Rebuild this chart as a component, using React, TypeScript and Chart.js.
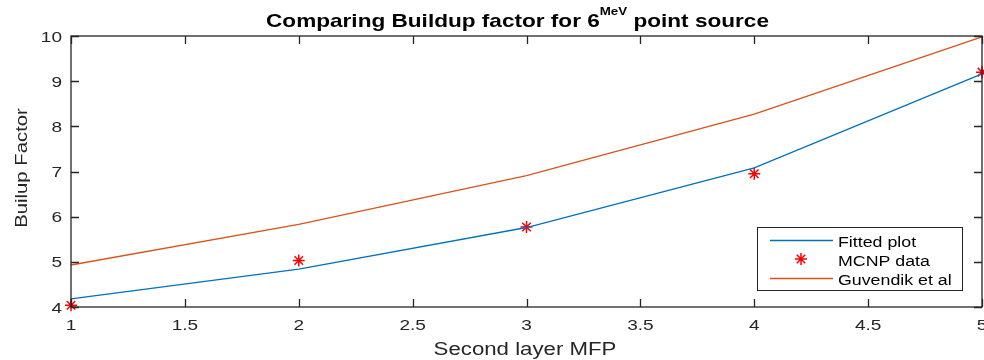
import React, { useEffect, useRef } from "react";
import { Chart, registerables } from "chart.js";

Chart.register(...registerables);

const mfp = [1, 2, 3, 4, 5];
const fitted = [4.18, 4.84, 5.76, 7.08, 9.16];
const mcnp = [4.04, 5.03, 5.77, 6.95, 9.2];
const guvendik = [4.93, 5.83, 6.91, 8.27, 9.98];
const xTicks = [1, 1.5, 2, 2.5, 3, 3.5, 4, 4.5, 5];
const yTicks = [4, 5, 6, 7, 8, 9, 10];
const legendLabels = ["Fitted plot", "MCNP data", "Guvendik et al"];

const AXC = "#262626";
const FONT = "'Liberation Sans', Arial, sans-serif";
const SX = 1.27;

function wText(ctx: any, text: string, font: string) {
  ctx.font = font;
  return ctx.measureText(text).width * SX;
}

function drawText(ctx: any, text: string, x: number, y: number, font: string, align: string) {
  ctx.save();
  ctx.font = font;
  const w = ctx.measureText(text).width * SX;
  let x0 = x;
  if (align === "center") x0 = x - w / 2;
  else if (align === "right") x0 = x - w;
  ctx.translate(x0, y);
  ctx.scale(SX, 1);
  ctx.textAlign = "left";
  ctx.fillText(text, 0, 0);
  ctx.restore();
}

const decorPlugin = {
  id: "decor",
  afterDraw(chart: any) {
    const ctx = chart.ctx;
    const { left, right, top, bottom } = chart.chartArea;
    const xs = chart.scales.x;
    const ys = chart.scales.y;
    ctx.save();
    // box
    ctx.strokeStyle = AXC;
    ctx.lineWidth = 1.3;
    ctx.strokeRect(left, top, right - left, bottom - top);
    // inward ticks
    const tl = 8;
    ctx.beginPath();
    xTicks.forEach((v) => {
      const px = Math.round(xs.getPixelForValue(v)) + 0.5;
      ctx.moveTo(px, bottom);
      ctx.lineTo(px, bottom - tl);
      ctx.moveTo(px, top);
      ctx.lineTo(px, top + tl);
    });
    yTicks.forEach((v) => {
      const py = Math.round(ys.getPixelForValue(v)) + 0.5;
      ctx.moveTo(left, py);
      ctx.lineTo(left + tl, py);
      ctx.moveTo(right, py);
      ctx.lineTo(right - tl, py);
    });
    ctx.stroke();

    // tick labels
    ctx.fillStyle = AXC;
    ctx.textBaseline = "alphabetic";
    const tf = "15px " + FONT;
    xTicks.forEach((v) => {
      drawText(ctx, String(v), xs.getPixelForValue(v), 330, tf, "center");
    });
    yTicks.forEach((v) => {
      drawText(ctx, String(v), 62, ys.getPixelForValue(v) + 5.5, tf, "right");
    });

    // title with superscript
    ctx.fillStyle = "#000";
    const f1 = "bold 17.8px " + FONT;
    const f2 = "bold 10.5px " + FONT;
    const p1 = "Comparing Buildup factor for 6";
    const p2 = "MeV";
    const p3 = " point source";
    const w1 = wText(ctx, p1, f1);
    const w2 = wText(ctx, p2, f2);
    const w3 = wText(ctx, p3, f1);
    let x = 517.5 - (w1 + w2 + w3) / 2;
    const by = 27;
    drawText(ctx, p1, x, by, f1, "left");
    x += w1;
    drawText(ctx, p2, x, by - 12, f2, "left");
    x += w2;
    drawText(ctx, p3, x, by, f1, "left");

    // axis titles
    ctx.fillStyle = AXC;
    drawText(ctx, "Second layer MFP", 525, 355, "17.5px " + FONT, "center");
    ctx.save();
    ctx.translate(27, 168);
    ctx.rotate(-Math.PI / 2);
    drawText(ctx, "Builup Factor", 0, 0, "16px " + FONT, "center");
    ctx.restore();

    // legend
    const lx = 757, ly = 227, lw = 205, lh = 63;
    ctx.fillStyle = "#fff";
    ctx.fillRect(lx, ly, lw, lh);
    ctx.strokeStyle = "#262626";
    ctx.lineWidth = 1;
    ctx.strokeRect(lx + 0.5, ly + 0.5, lw, lh);
    const rows = [240, 259, 278];
    const colors = ["#0072BD", "#ff0000", "#D95319"];
    rows.forEach((ry, i) => {
      ctx.strokeStyle = colors[i];
      ctx.lineWidth = 1.5;
      ctx.beginPath();
      if (i === 1) {
        const cx = 801, r = 6;
        for (let k = 0; k < 4; k++) {
          const a = (k * Math.PI) / 4;
          ctx.moveTo(cx - r * Math.cos(a), ry - r * Math.sin(a));
          ctx.lineTo(cx + r * Math.cos(a), ry + r * Math.sin(a));
        }
      } else {
        ctx.moveTo(770, ry + 0.5);
        ctx.lineTo(833, ry + 0.5);
      }
      ctx.stroke();
      ctx.fillStyle = "#000";
      drawText(ctx, legendLabels[i], 838, ry + 7, "14px " + FONT, "left");
    });
    ctx.restore();
  },
};

export default function App() {
  const ref = useRef<HTMLCanvasElement | null>(null);
  useEffect(() => {
    if (!ref.current) return;
    const chart = new Chart(ref.current, {
      type: "line",
      data: {
        datasets: [
          {
            label: legendLabels[0],
            data: mfp.map((x, i) => ({ x, y: fitted[i] })),
            borderColor: "#0072BD",
            borderWidth: 1.3,
            pointRadius: 0,
            fill: false,
          },
          {
            label: legendLabels[1],
            data: mfp.map((x, i) => ({ x, y: mcnp[i] })),
            showLine: false,
            pointStyle: "star",
            pointRadius: 6,
            borderColor: "#ff0000",
            backgroundColor: "#ff0000",
            borderWidth: 1.5,
          },
          {
            label: legendLabels[2],
            data: mfp.map((x, i) => ({ x, y: guvendik[i] })),
            borderColor: "#D95319",
            borderWidth: 1.3,
            pointRadius: 0,
            fill: false,
          },
        ],
      },
      options: {
        animation: false,
        responsive: false,
        maintainAspectRatio: false,
        clip: false,
        layout: { autoPadding: false, padding: { top: 36, right: 2, left: 0, bottom: 0 } },
        plugins: { legend: { display: false }, title: { display: false }, tooltip: { enabled: false } },
        scales: {
          x: {
            type: "linear",
            min: 1,
            max: 5,
            afterBuildTicks: (s: any) => {
              s.ticks = xTicks.map((v) => ({ value: v }));
            },
            afterFit: (s: any) => {
              s.height = 53;
              s.paddingLeft = 0;
              s.paddingRight = 0;
            },
            grid: { display: false },
            border: { display: false },
            ticks: { display: false },
          },
          y: {
            type: "linear",
            min: 4,
            max: 10,
            afterBuildTicks: (s: any) => {
              s.ticks = yTicks.map((v) => ({ value: v }));
            },
            afterFit: (s: any) => {
              s.width = 71;
              s.paddingTop = 0;
              s.paddingBottom = 0;
            },
            grid: { display: false },
            border: { display: false },
            ticks: { display: false },
          },
        },
      } as any,
      plugins: [decorPlugin],
    });
    return () => chart.destroy();
  }, []);
  return (
    <div style={{ position: "absolute", left: 0, top: 0, width: 984, height: 360, background: "#fff" }}>
      <canvas ref={ref} width={984} height={360} style={{ width: 984, height: 360 }} />
    </div>
  );
}
